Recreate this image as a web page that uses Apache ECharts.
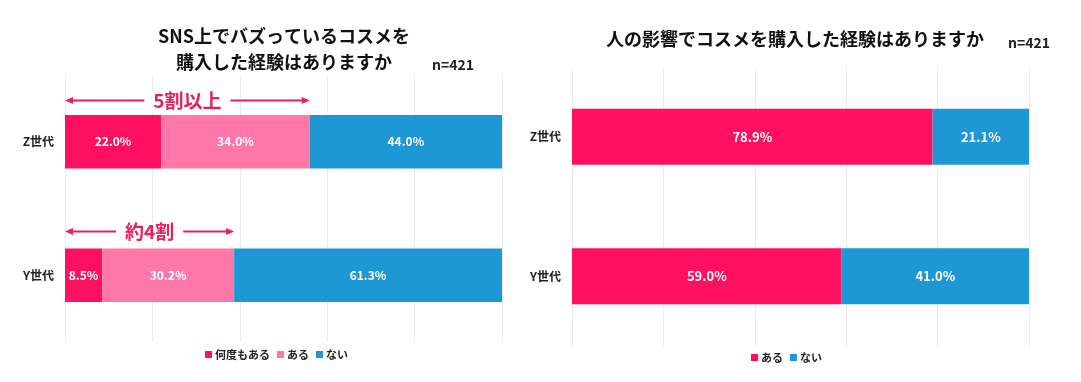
<!DOCTYPE html>
<html><head><meta charset="utf-8">
<script src="https://cdn.jsdelivr.net/npm/echarts@6/dist/echarts.min.js"></script>
<style>html,body{margin:0;padding:0;background:#fff}#c{width:1081px;height:382px}</style>
</head><body><div id="c"></div>
<script>
// ---- data ----
const categories = ['Z世代', 'Y世代'];
const leftManyTimes = [22.0, 8.5];   // 何度もある
const leftOnce = [34.0, 30.2];       // ある
const leftNever = [44.0, 61.3];      // ない
const rightYes = [78.9, 59.0];       // ある
const rightNo = [21.1, 41.0];        // ない
const annotationTexts = ['5割以上', '約4割'];
const xTicks = [0, 20, 40, 60, 80, 100];

const FONT = '"Noto Sans CJK JP", "Noto Sans", sans-serif';
const PINK = '#FF0F5F', LPINK = '#FF78A8', BLUE = '#1E97D5', ANN = '#E8205E';

const chart = echarts.init(document.getElementById('c'), null, {renderer: 'canvas'});

function barLabel(size) {
  return {show: true, position: 'inside', color: '#fff', fontFamily: FONT, fontWeight: 'bold', fontSize: size,
    formatter: p => p.value.toFixed(1) + '%'};
}
function xAx(gi) {
  return {gridIndex: gi, type: 'value', min: xTicks[0], max: xTicks[xTicks.length - 1], interval: 20,
    axisLabel: {show: false}, axisLine: {show: false}, axisTick: {show: false},
    splitLine: {show: true, lineStyle: {color: '#EBEBEB', width: 1}}};
}
function yAx(gi) {
  return {gridIndex: gi, type: 'category', data: categories, inverse: true,
    axisLine: {show: false}, axisTick: {show: false}, splitLine: {show: false},
    axisLabel: {margin: 11, color: '#222', fontFamily: FONT, fontWeight: 'bold', fontSize: 12}};
}

const option = {
  animation: false,
  backgroundColor: '#fff',
  title: [
    {text: 'SNS上でバズっているコスメを\n購入した経験はありますか', left: 279, top: 18, textAlign: 'center',
      textStyle: {fontFamily: FONT, fontWeight: 'bold', fontSize: 18, lineHeight: 26, color: '#111'}},
    {text: '人の影響でコスメを購入した経験はありますか', left: 790, top: 21, textAlign: 'center',
      textStyle: {fontFamily: FONT, fontWeight: 'bold', fontSize: 18, lineHeight: 26, color: '#111'}},
    {text: 'n=421', left: 427, top: 53, textStyle: {fontFamily: FONT, fontWeight: 'bold', fontSize: 14, color: '#222'}},
    {text: 'n=421', left: 1003, top: 31, textStyle: {fontFamily: FONT, fontWeight: 'bold', fontSize: 14, color: '#222'}}
  ],
  legend: [
    {data: ['何度もある', 'ある', 'ない'], left: 200, top: 344,
      icon: 'rect', itemWidth: 7, itemHeight: 7, itemGap: 7,
      textStyle: {fontFamily: FONT, fontWeight: 'bold', fontSize: 11, color: '#222', padding: [0, 0, 0, -2]}},
    {data: ['ある ', 'ない '], left: 746, top: 347,
      icon: 'rect', itemWidth: 7, itemHeight: 7, itemGap: 7, formatter: n => n.trim(),
      textStyle: {fontFamily: FONT, fontWeight: 'bold', fontSize: 11, color: '#222', padding: [0, 0, 0, -2]}}
  ],
  grid: [
    {left: 65, right: 579, top: 75, bottom: 40},
    {left: 572, right: 52, top: 67, bottom: 36}
  ],
  xAxis: [xAx(0), xAx(1)],
  yAxis: [yAx(0), yAx(1)],
  series: [
    {name: '何度もある', type: 'bar', stack: 'L', xAxisIndex: 0, yAxisIndex: 0, barWidth: '40%', data: leftManyTimes,
      itemStyle: {color: PINK}, label: barLabel(12)},
    {name: 'ある', type: 'bar', stack: 'L', xAxisIndex: 0, yAxisIndex: 0, barWidth: '40%', data: leftOnce,
      itemStyle: {color: LPINK}, label: barLabel(12)},
    {name: 'ない', type: 'bar', stack: 'L', xAxisIndex: 0, yAxisIndex: 0, barWidth: '40%', data: leftNever,
      itemStyle: {color: BLUE}, label: barLabel(12)},
    {name: 'ある ', type: 'bar', stack: 'R', xAxisIndex: 1, yAxisIndex: 1, barWidth: '40%', data: rightYes,
      itemStyle: {color: PINK}, label: barLabel(13)},
    {name: 'ない ', type: 'bar', stack: 'R', xAxisIndex: 1, yAxisIndex: 1, barWidth: '40%', data: rightNo,
      itemStyle: {color: BLUE}, label: barLabel(13)}
  ]
};
chart.setOption(option);

// annotation arrows spanning "何度もある + ある"
const elements = [];
categories.forEach((cat, i) => {
  const x0 = chart.convertToPixel({xAxisIndex: 0}, 0);
  const x1 = chart.convertToPixel({xAxisIndex: 0}, leftManyTimes[i] + leftOnce[i]);
  const yc = chart.convertToPixel({yAxisIndex: 0}, cat);
  const y = Math.round(yc - 42 - i * 2) + 0.5;
  elements.push({type: 'line', shape: {x1: x0 + 3, y1: y, x2: x1 - 3, y2: y}, style: {stroke: ANN, lineWidth: 2}, z: 10});
  elements.push({type: 'polygon', shape: {points: [[x0, y], [x0 + 8, y - 3.5], [x0 + 8, y + 3.5]]}, style: {fill: ANN}, z: 10});
  elements.push({type: 'polygon', shape: {points: [[x1, y], [x1 - 8, y - 3.5], [x1 - 8, y + 3.5]]}, style: {fill: ANN}, z: 10});
  elements.push({type: 'text', x: (x0 + x1) / 2, y: y, z: 11,
    style: {text: annotationTexts[i], fill: ANN, font: 'bold 19px ' + FONT, align: 'center', verticalAlign: 'middle',
      backgroundColor: '#fff', padding: [0, 9]}});
});
chart.setOption({graphic: {elements: elements}});
</script></body></html>
